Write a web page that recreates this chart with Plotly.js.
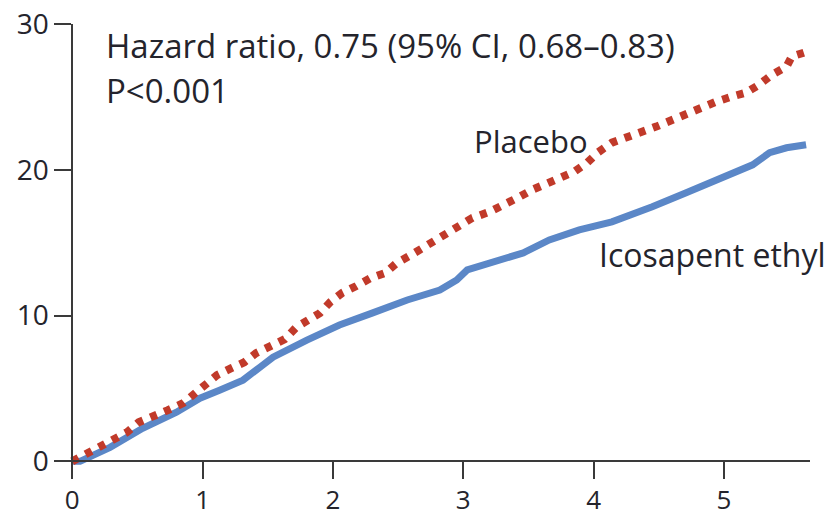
<!DOCTYPE html>
<html>
<head>
<meta charset="utf-8">
<script src="https://cdn.plot.ly/plotly-3.0.1.min.js"></script>
<style>html,body{margin:0;padding:0;background:#fff;}#chart{width:828px;height:517px;}</style>
</head>
<body>
<div id="chart"></div>
<script>
// Years since randomization
var placeboYears = [0, 0.11, 0.21, 0.31, 0.42, 0.51, 0.62, 0.73, 0.85, 0.93, 1.02, 1.11, 1.22, 1.32, 1.41, 1.53, 1.63, 1.72, 1.81, 1.90, 1.98, 2.07, 2.18, 2.29, 2.40, 2.49, 2.60, 2.69, 2.79, 2.89, 2.97, 3.07, 3.20, 3.32, 3.43, 3.53, 3.65, 3.75, 3.85, 3.95, 4.03, 4.14, 4.25, 4.35, 4.48, 4.60, 4.71, 4.81, 4.94, 5.06, 5.17, 5.27, 5.37, 5.48, 5.52, 5.64];
var placeboPct = [0, 0.55, 1.1, 1.51, 2.0, 2.68, 3.02, 3.5, 3.99, 4.54, 5.29, 5.91, 6.39, 6.8, 7.42, 7.97, 8.38, 9.21, 9.76, 10.17, 10.93, 11.55, 12.03, 12.58, 12.92, 13.61, 14.16, 14.64, 15.19, 15.67, 16.08, 16.7, 17.11, 17.73, 18.14, 18.63, 19.1, 19.45, 19.86, 20.48, 21.17, 21.86, 22.27, 22.54, 22.96, 23.44, 23.85, 24.19, 24.67, 25.02, 25.29, 25.84, 26.53, 27.08, 27.77, 28.11];

var icosaYears = [0, 0.06, 0.29, 0.54, 0.80, 0.98, 1.13, 1.31, 1.44, 1.54, 1.80, 2.05, 2.30, 2.57, 2.82, 2.95, 3.03, 3.20, 3.46, 3.66, 3.89, 4.14, 4.33, 4.45, 4.71, 4.97, 5.22, 5.35, 5.48, 5.63];
var icosaPct = [0, 0, 0.96, 2.27, 3.37, 4.33, 4.88, 5.57, 6.46, 7.15, 8.32, 9.35, 10.17, 11.07, 11.75, 12.44, 13.13, 13.61, 14.3, 15.19, 15.88, 16.43, 17.04, 17.46, 18.42, 19.45, 20.34, 21.17, 21.51, 21.72];

var xTickVals = [0, 1, 2, 3, 4, 5];
var xTickText = ['0', '1', '2', '3', '4', '5'];
var yTickVals = [0, 10, 20, 30];
var yTickText = ['0', '10', '20', '30'];

var xRange = [-0.025, 5.66];
var yRange = [-0.25, 30];

var axisColor = '#3a3a3a';
var textColor = '#24242c';
var fontFam = '"Open Sans", "Liberation Sans", sans-serif';

var traces = [
  {
    x: icosaYears, y: icosaPct, type: 'scatter', mode: 'lines',
    line: {color: '#5b87c7', width: 7},
    hoverinfo: 'skip', showlegend: false
  },
  {
    x: placeboYears, y: placeboPct, type: 'scatter', mode: 'lines',
    line: {color: '#c13a2a', width: 8, dash: '7px,8px'},
    hoverinfo: 'skip', showlegend: false
  }
];

var layout = {
  width: 828, height: 517,
  margin: {l: 69, r: 18, t: 24, b: 52},
  paper_bgcolor: '#ffffff', plot_bgcolor: '#ffffff',
  showlegend: false,
  font: {family: fontFam, color: textColor},
  xaxis: {
    range: xRange, showgrid: false, zeroline: false,
    showline: true, linecolor: axisColor, linewidth: 2,
    anchor: 'free', position: (0 - yRange[0]) / (yRange[1] - yRange[0]),
    ticks: 'outside', ticklen: 17, tickwidth: 2, tickcolor: axisColor,
    tickvals: xTickVals, ticktext: xTickText, ticklabelstandoff: -2,
    tickfont: {family: fontFam, size: 26, color: textColor}
  },
  yaxis: {
    range: yRange, showgrid: false, zeroline: false,
    showline: true, linecolor: axisColor, linewidth: 2,
    anchor: 'free', position: (0 - xRange[0]) / (xRange[1] - xRange[0]),
    ticks: 'outside', ticklen: 17, tickwidth: 2, tickcolor: axisColor,
    tickvals: yTickVals, ticktext: yTickText,
    tickfont: {family: fontFam, size: 28, color: textColor}
  },
  annotations: [
    {x: 0.242, y: 28.5, xref: 'x', yref: 'y', text: 'Hazard ratio, 0.75 (95% CI, 0.68–0.83)', showarrow: false, xanchor: 'left', yanchor: 'middle', font: {family: fontFam, size: 33, color: textColor}},
    {x: 0.242, y: 25.45, xref: 'x', yref: 'y', text: 'P&lt;0.001', showarrow: false, xanchor: 'left', yanchor: 'middle', font: {family: fontFam, size: 33, color: textColor}},
    {x: 3.07, y: 21.98, xref: 'x', yref: 'y', text: 'Placebo', showarrow: false, xanchor: 'left', yanchor: 'middle', font: {family: fontFam, size: 31, color: textColor}},
    {x: 4.025, y: 14.16, xref: 'x', yref: 'y', text: 'Icosapent ethyl', showarrow: false, xanchor: 'left', yanchor: 'middle', font: {family: fontFam, size: 32, color: textColor}}
  ]
};

Plotly.newPlot('chart', traces, layout, {staticPlot: true, displayModeBar: false});
</script>
</body>
</html>
